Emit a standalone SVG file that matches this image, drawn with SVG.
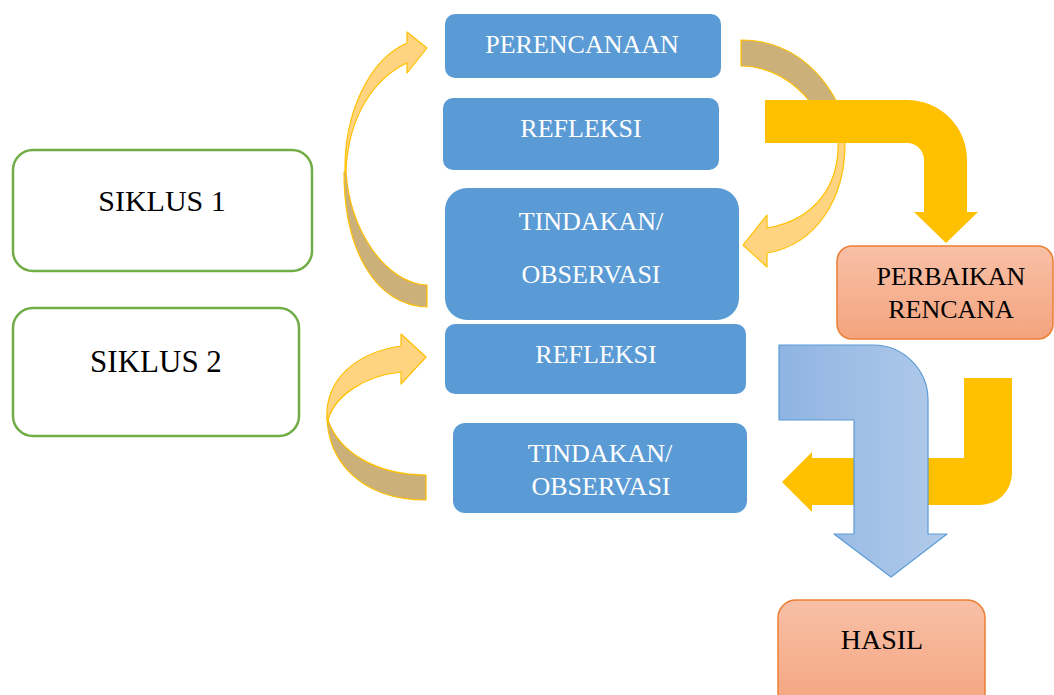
<svg xmlns="http://www.w3.org/2000/svg" width="1054" height="695" viewBox="0 0 1054 695">
<defs>
<style>
.blue{fill:#5b9bd5;}
.wt{font-size:26px;fill:#ffffff;text-anchor:middle;}
.bt{fill:#000000;text-anchor:middle;}
.siklus{fill:#ffffff;stroke:#70ad47;stroke-width:2.5;}
.orange{fill:url(#og);stroke:#ed7d31;stroke-width:1.5;}
.light{fill:#ffd480;stroke:#ffc000;stroke-width:1.2;stroke-linejoin:round;}
.dark{fill:#cbb07a;stroke:#ffc000;stroke-width:1.2;stroke-linejoin:round;}
.yel{fill:#ffc000;}
</style>
<linearGradient id="og" x1="0" y1="0" x2="0" y2="1">
<stop offset="0" stop-color="#f8c0a7"/>
<stop offset="1" stop-color="#f4a47e"/>
</linearGradient>
<linearGradient id="bg" x1="0" y1="0" x2="1" y2="0">
<stop offset="0" stop-color="#8fb4e2"/>
<stop offset="1" stop-color="#b1cbea"/>
</linearGradient>
</defs>
<rect width="1054" height="695" fill="#ffffff"/>

<g id="connectors">
<path class="dark" d="M 346,172 C 350,230 385,283 427,285 L 427,307 C 375,305 344,250 344,172 Z"/>
<path class="light" d="M 345,172 C 344,115 368,60 407,43 L 407,32 L 427,48 L 407,73 L 407,63 C 375,78 348,115 346,172 Z"/>
<path class="dark" d="M 328,420 C 340,455 380,475 426,475 L 426,500 C 360,500 327,460 327,415 Z"/>
<path class="light" d="M 327,420 L 327,410 C 330,375 360,352 401,346 L 401,334 L 426,357 L 401,384 L 401,372 C 365,376 335,395 328,420 Z"/>
<path class="dark" d="M 741,40 C 785,40 818,65 838,104 L 812,104 C 795,82 770,66 741,66 Z"/>
<path class="light" d="M 838,140 C 840,185 815,220 767,228 L 767,215 L 743,245 L 767,267 L 767,253 C 815,245 846,200 845,140 Z"/>
<path class="yel" d="M 765,100 L 907,100 A 60,60 0 0 1 967,160 L 967,212 L 978,212 L 946,243 L 914,212 L 924,212 L 924,160 A 17,17 0 0 0 907,143 L 765,143 Z"/>
<path class="yel" d="M 964,378 L 1012,378 L 1012,473 A 32,32 0 0 1 980,505 L 812,505 L 812,512 L 782,482 L 812,452 L 812,458 L 964,458 Z"/>
<path d="M 779,345 L 873,345 A 55,55 0 0 1 928,400 L 928,534 L 947,534 L 891,577 L 834,534 L 854,534 L 854,420 L 779,420 Z" fill="url(#bg)" stroke="#5b9bd5" stroke-width="1.2" stroke-linejoin="round"/>
</g>

<g id="siklus1">
<rect class="siklus" x="13" y="150" width="299" height="121" rx="20"/>
<text class="bt" x="162" y="211" font-size="30" font-family="'Liberation Serif', 'DejaVu Serif', serif">SIKLUS 1</text>
</g>
<g id="siklus2">
<rect class="siklus" x="13" y="308" width="286" height="128" rx="20"/>
<text class="bt" x="156" y="372" font-size="31" font-family="'Liberation Serif', 'DejaVu Serif', serif">SIKLUS 2</text>
</g>

<g id="perencanaan">
<rect class="blue" x="445" y="14" width="276" height="64" rx="10"/>
<text class="wt" x="582" y="53" font-family="'Liberation Serif', 'DejaVu Serif', serif">PERENCANAAN</text>
</g>
<g id="refleksi1">
<rect class="blue" x="443" y="98" width="276" height="72" rx="10"/>
<text class="wt" x="581" y="137" font-family="'Liberation Serif', 'DejaVu Serif', serif">REFLEKSI</text>
</g>
<g id="tindakan1">
<rect class="blue" x="445" y="188" width="294" height="132" rx="22"/>
<text class="wt" x="591" y="230" font-family="'Liberation Serif', 'DejaVu Serif', serif">TINDAKAN/</text>
<text class="wt" x="591" y="283" font-family="'Liberation Serif', 'DejaVu Serif', serif">OBSERVASI</text>
</g>
<g id="refleksi2">
<rect class="blue" x="445" y="324" width="301" height="70" rx="10"/>
<text class="wt" x="596" y="363" font-family="'Liberation Serif', 'DejaVu Serif', serif">REFLEKSI</text>
</g>
<g id="tindakan2">
<rect class="blue" x="453" y="423" width="294" height="90" rx="12"/>
<text class="wt" x="600" y="462" font-family="'Liberation Serif', 'DejaVu Serif', serif">TINDAKAN/</text>
<text class="wt" x="601" y="495" font-family="'Liberation Serif', 'DejaVu Serif', serif">OBSERVASI</text>
</g>

<g id="perbaikan">
<rect class="orange" x="837" y="246" width="216" height="93" rx="15"/>
<text class="bt" x="951" y="285" font-size="26" font-family="'Liberation Serif', 'DejaVu Serif', serif">PERBAIKAN</text>
<text class="bt" x="951" y="318" font-size="26" font-family="'Liberation Serif', 'DejaVu Serif', serif">RENCANA</text>
</g>
<g id="hasil">
<rect class="orange" x="778" y="600" width="207" height="110" rx="18"/>
<text class="bt" x="882" y="649" font-size="28" font-family="'Liberation Serif', 'DejaVu Serif', serif">HASIL</text>
</g>
</svg>
